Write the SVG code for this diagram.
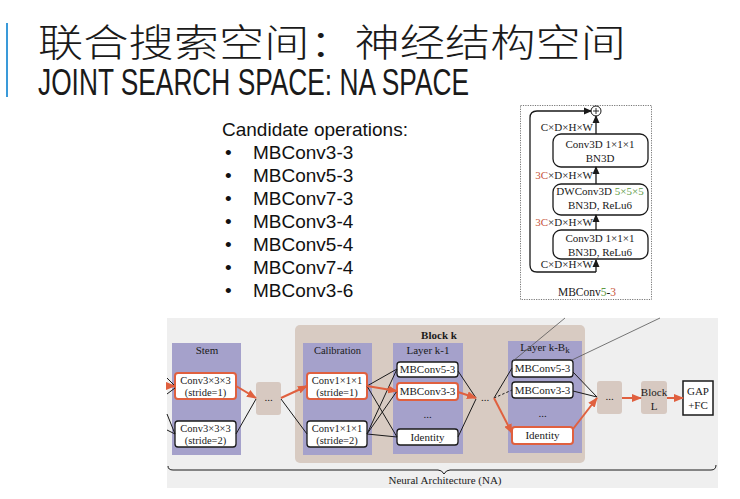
<svg xmlns="http://www.w3.org/2000/svg" width="740" height="499" viewBox="0 0 740 499">
<style>
.cn{font-family:"Noto Sans CJK SC","Noto Sans CJK JP",sans-serif;font-weight:300;font-size:38px;fill:#1a1a1a}
.en{font-family:"Liberation Sans",Arial,sans-serif;font-size:37px;fill:#1a1a1a}
.list{font-family:"Liberation Sans",Arial,sans-serif;font-size:19px;fill:#111}
.s{font-family:"Liberation Serif","Times New Roman",serif;fill:#1a1a1a;font-size:11px}
.c{font-size:10.5px}
.m{font-family:"Liberation Serif","Times New Roman",serif;fill:#1a1a1a;font-size:11px}
.panel{fill:#a5a1cb}
.box{fill:#fff;stroke:#1a1a1a;stroke-width:1.3}
.rbox{fill:#fff;stroke:#e0603f;stroke-width:2}
.dots{fill:#d7c9c1}
.bl{stroke:#1a1a1a;stroke-width:1;fill:none}
.or{stroke:#e0603f;stroke-width:2;fill:none;marker-end:url(#ao)}
.ka{stroke:#1a1a1a;stroke-width:1.3;fill:none;marker-end:url(#ak)}
.mb{fill:#fff;stroke:#1a1a1a;stroke-width:1.3}
.red{fill:#c8553d}
.grn{fill:#5e9a45}
</style>
<defs>
<marker id="ao" markerUnits="userSpaceOnUse" markerWidth="10" markerHeight="8" refX="9" refY="4" orient="auto">
<path d="M0,0 L10,4 L0,8 z" fill="#e0603f"/>
</marker>
<marker id="ak" markerUnits="userSpaceOnUse" markerWidth="8" markerHeight="8" refX="7" refY="4" orient="auto">
<path d="M0,0.5 L8,4 L0,7.5 z" fill="#1a1a1a"/>
</marker>
</defs>

<!-- Title -->
<g id="title">
<rect x="6" y="23" width="2" height="74" fill="#3a9ad9"/>
<text class="cn" x="38" y="56" textLength="588" lengthAdjust="spacingAndGlyphs">联合搜索空间：神经结构空间</text>
<text class="en" x="38" y="95" textLength="431" lengthAdjust="spacingAndGlyphs">JOINT SEARCH SPACE: NA SPACE</text>
</g>

<!-- Candidate list -->
<g id="candidates">
<text class="list" x="222" y="136">Candidate operations:</text>
<g class="list">
<text x="225" y="159">•</text><text x="253" y="159">MBConv3-3</text>
<text x="225" y="182">•</text><text x="253" y="182">MBConv5-3</text>
<text x="225" y="205">•</text><text x="253" y="205">MBConv7-3</text>
<text x="225" y="228">•</text><text x="253" y="228">MBConv3-4</text>
<text x="225" y="251">•</text><text x="253" y="251">MBConv5-4</text>
<text x="225" y="274">•</text><text x="253" y="274">MBConv7-4</text>
<text x="225" y="297">•</text><text x="253" y="297">MBConv3-6</text>
</g>
</g>

<!-- MBConv5-3 detail block -->
<g id="mbconv-detail">
<rect x="520.5" y="105.5" width="131" height="194" fill="#fff" stroke="#777" stroke-width="1" stroke-dasharray="1.2,1.2"/>
<g id="mb-add">
<circle cx="596" cy="111" r="5" fill="#fff" stroke="#1a1a1a" stroke-width="1"/>
<path d="M593,111 H599 M596,108 V114" stroke="#1a1a1a" stroke-width="0.9"/>
</g>
<g id="mb-conv-top">
<rect class="mb" x="553" y="134" width="95" height="33" rx="8"/>
<text class="m" x="600" y="148" text-anchor="middle">Conv3D 1×1×1</text>
<text class="m" x="600" y="162" text-anchor="middle">BN3D</text>
</g>
<g id="mb-dwconv">
<rect class="mb" x="553" y="184" width="95" height="31" rx="8"/>
<text class="m" x="600" y="195" text-anchor="middle">DWConv3D <tspan class="grn">5×5×5</tspan></text>
<text class="m" x="600" y="209" text-anchor="middle">BN3D, ReLu6</text>
</g>
<g id="mb-conv-bottom">
<rect class="mb" x="553" y="230" width="95" height="29" rx="8"/>
<text class="m" x="600" y="242" text-anchor="middle">Conv3D 1×1×1</text>
<text class="m" x="600" y="256" text-anchor="middle">BN3D, ReLu6</text>
</g>
<g class="m" text-anchor="end">
<text x="593" y="131">C×D×H×W</text>
<text x="593" y="179"><tspan class="red">3C</tspan>×D×H×W</text>
<text x="593" y="226"><tspan class="red">3C</tspan>×D×H×W</text>
<text x="593" y="268">C×D×H×W</text>
</g>
<text x="587" y="296" text-anchor="middle" style="font-family:'Liberation Serif','Times New Roman',serif;font-size:11.5px;fill:#1a1a1a">MBConv<tspan class="grn">5</tspan>-<tspan class="red">3</tspan></text>
<g id="mb-connectors">
<path class="ka" d="M596,272 V260"/>
<path class="ka" d="M596,230 V215"/>
<path class="ka" d="M596,184 V167"/>
<path class="ka" d="M596,134 V116"/>
<path class="ka" d="M596,272 H537 Q530,272 530,265 V118 Q530,111 537,111 H591"/>
</g>
</g>

<!-- Neural architecture diagram -->
<g id="na-background">
<rect x="167" y="318" width="551" height="170" fill="#efefef"/>
</g>
<g id="block-k">
<rect x="295" y="325" width="290" height="138" rx="5" fill="#d8cbc2"/>
<text class="s" x="439" y="339" text-anchor="middle" font-weight="bold">Block k</text>
</g>

<g id="stem">
<rect class="panel" x="172" y="343" width="69" height="112"/>
<text class="s" x="207" y="354" text-anchor="middle">Stem</text>
</g>
<g id="stem-s1">
<rect class="rbox" x="175" y="373" width="61" height="26" rx="3"/>
<text class="s c" x="205.5" y="384" text-anchor="middle">Conv3×3×3</text>
<text class="s c" x="205.5" y="396" text-anchor="middle">(stride=1)</text>
</g>
<g id="stem-s2">
<rect class="box" x="175" y="421" width="61" height="26" rx="3"/>
<text class="s c" x="205.5" y="432" text-anchor="middle">Conv3×3×3</text>
<text class="s c" x="205.5" y="444" text-anchor="middle">(stride=2)</text>
</g>
<g id="dots-1">
<rect class="dots" x="256" y="382" width="25" height="33" rx="3"/>
<text class="s" x="268.5" y="401" text-anchor="middle">...</text>
</g>

<g id="calibration">
<rect class="panel" x="303" y="343" width="69" height="112"/>
<text class="s c" x="337.5" y="354" text-anchor="middle">Calibration</text>
</g>
<g id="cal-s1">
<rect class="rbox" x="307" y="373" width="60" height="26" rx="3"/>
<text class="s c" x="337" y="384" text-anchor="middle">Conv1×1×1</text>
<text class="s c" x="337" y="396" text-anchor="middle">(stride=1)</text>
</g>
<g id="cal-s2">
<rect class="box" x="307" y="421" width="60" height="26" rx="3"/>
<text class="s c" x="337" y="432" text-anchor="middle">Conv1×1×1</text>
<text class="s c" x="337" y="444" text-anchor="middle">(stride=2)</text>
</g>

<g id="layer-k1">
<rect class="panel" x="393" y="343" width="70" height="111"/>
<text class="s" x="428" y="354" text-anchor="middle">Layer k-1</text>
<text class="s" x="427.5" y="418" text-anchor="middle">...</text>
</g>
<g id="lk1-mb53">
<rect class="box" x="397" y="362" width="61" height="15" rx="3"/>
<text class="s" x="427.5" y="373" text-anchor="middle">MBConv5-3</text>
</g>
<g id="lk1-mb33">
<rect class="rbox" x="397" y="383" width="61" height="17" rx="3"/>
<text class="s" x="427.5" y="395" text-anchor="middle">MBConv3-3</text>
</g>
<g id="lk1-id">
<rect class="box" x="397" y="429" width="61" height="16" rx="3"/>
<text class="s" x="427.5" y="441" text-anchor="middle">Identity</text>
</g>

<g id="dots-mid">
<text class="s" x="485" y="401" text-anchor="middle">...</text>
</g>

<g id="layer-kbk">
<rect class="panel" x="508" y="341" width="74" height="112"/>
<text class="s" x="545" y="351" text-anchor="middle">Layer k-B<tspan font-size="9" dy="2">k</tspan></text>
<text class="s" x="542.5" y="417" text-anchor="middle">...</text>
</g>
<g id="lkb-mb53">
<rect class="box" x="512" y="360" width="61" height="17" rx="3"/>
<text class="s" x="542.5" y="372" text-anchor="middle">MBConv5-3</text>
</g>
<g id="lkb-mb33">
<rect class="box" x="512" y="382" width="61" height="16" rx="3"/>
<text class="s" x="542.5" y="394" text-anchor="middle">MBConv3-3</text>
</g>
<g id="lkb-id">
<rect class="rbox" x="512" y="427" width="61" height="17" rx="3"/>
<text class="s" x="542.5" y="439" text-anchor="middle">Identity</text>
</g>

<g id="dots-2">
<rect class="dots" x="597" y="381" width="25" height="33" rx="3"/>
<text class="s" x="609.5" y="400" text-anchor="middle">...</text>
</g>
<g id="block-l">
<rect class="dots" x="641" y="381" width="26" height="33" rx="3"/>
<text class="s" x="654" y="396" text-anchor="middle">Block</text>
<text class="s" x="654" y="410" text-anchor="middle">L</text>
</g>
<g id="gap-fc">
<rect x="683" y="381" width="30" height="34" fill="#fff" stroke="#1a1a1a" stroke-width="1.5"/>
<text class="s" x="698" y="395" text-anchor="middle">GAP</text>
<text class="s" x="698" y="409" text-anchor="middle">+FC</text>
</g>

<g id="brace">
<path d="M168,466 Q168,470 173,470 H438 Q442,470 444,474 Q446,470 450,470 H711 Q716,470 716,465" fill="none" stroke="#1a1a1a" stroke-width="1"/>
<text class="s" x="445" y="484" text-anchor="middle" font-size="11.5">Neural Architecture (NA)</text>
</g>

<g id="connectors">
<!-- into stem -->
<path class="bl" d="M167,378 L175,386 M167,394 L175,388"/>
<path class="or" d="M167,386 L175,386"/>
<path class="bl" d="M167,414 L175,434 M167,430 L175,434"/>
<!-- stem to dots -->
<path class="or" d="M236,386 L256,398"/>
<path class="bl" d="M236,434 L256,399"/>
<!-- dots to calibration -->
<path class="or" d="M281,398 L307,386"/>
<path class="bl" d="M281,399 L307,434"/>
<!-- calibration to layer k-1 -->
<path class="bl" d="M367,386 L397,369 M367,386 L397,437 M367,434 L397,369 M367,434 L397,391 M367,434 L397,437"/>
<path class="or" d="M367,386 L397,391"/>
<!-- layer k-1 to middle dots -->
<path class="bl" d="M458,371 L476,398 M458,437 L476,399"/>
<path class="or" d="M458,392 L476,398"/>
<!-- middle dots to layer k-Bk -->
<path class="bl" d="M494,398 L512,368"/>
<path class="bl" d="M494,398 L512,390" stroke-dasharray="2.5,2"/>
<path class="or" d="M494,398 L512,433"/>
<!-- layer k-Bk to dots -->
<path class="bl" d="M573,372 L597,397 M573,391 L597,397"/>
<path class="or" d="M573,429 L597,398"/>
<!-- tail -->
<path class="or" d="M622,398 L641,398"/>
<path class="or" d="M667,398 L683,398"/>
<!-- zoom lines to detail -->
<path d="M513,361 L565,318 M572,360 L660,318" stroke="#555" stroke-width="0.8" fill="none"/>
</g>
</svg>
